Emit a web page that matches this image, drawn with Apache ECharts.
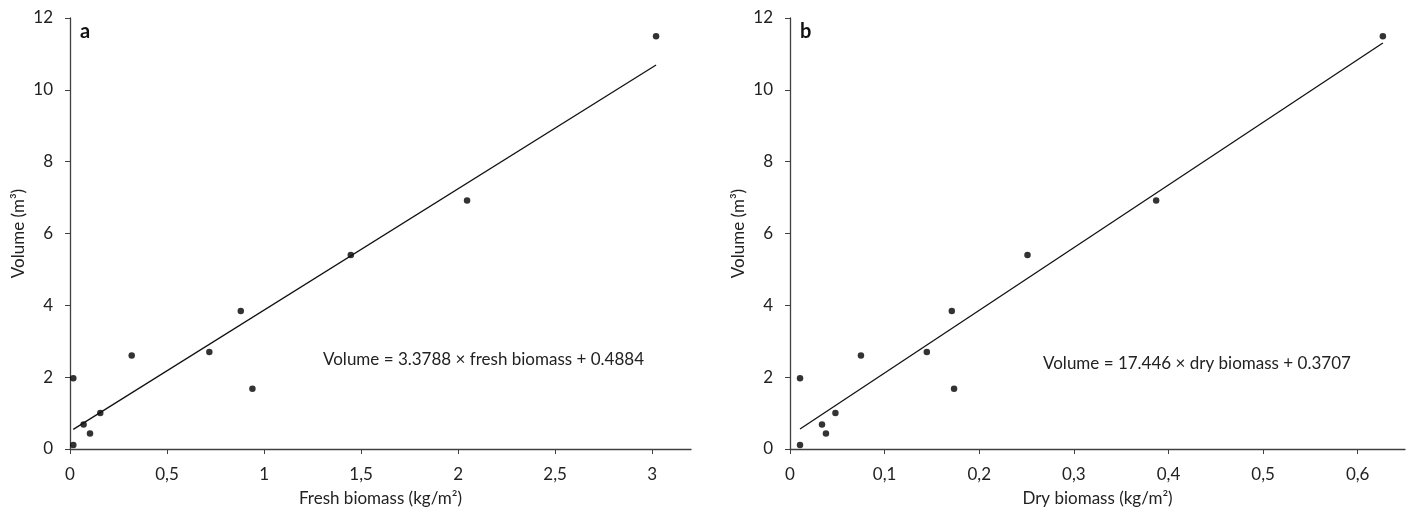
<!DOCTYPE html>
<html>
<head>
<meta charset="utf-8">
<script src="https://cdn.jsdelivr.net/npm/echarts@6/dist/echarts.min.js"></script>
<style>
  html, body { margin: 0; padding: 0; background: #fff; }
  #chart { width: 1409px; height: 510px; }
</style>
</head>
<body>
<div id="chart"></div>
<script>
// panel a: fresh biomass vs volume
const freshBiomass = [0.017, 0.017, 0.07, 0.103, 0.156, 0.318, 0.718, 0.88, 0.94, 1.447, 2.046, 3.02];
// panel b: dry biomass vs volume
const dryBiomass = [0.0106, 0.0106, 0.0338, 0.038, 0.048, 0.075, 0.1446, 0.171, 0.1734, 0.251, 0.387, 0.6266];
// volume, same plots in both panels
const volume = [0.11, 1.97, 0.68, 0.43, 1.0, 2.6, 2.7, 3.84, 1.68, 5.4, 6.92, 11.49];

// regression coefficients printed on the figure
const freshSlope = 3.3788, freshIntercept = 0.4884;
const drySlope = 17.446, dryIntercept = 0.3707;

const freshTicks = [0, 0.5, 1, 1.5, 2, 2.5, 3];
const dryTicks = [0, 0.1, 0.2, 0.3, 0.4, 0.5, 0.6];

const FONT = 'Lato';
const TXT = '#222';
const FS = 17;

function pairs(xs, ys) {
  return xs.map((x, i) => [x, ys[i]]);
}
function fitLine(xs, slope, icpt) {
  const lo = Math.min(...xs), hi = Math.max(...xs);
  return [[lo, slope * lo + icpt], [hi, slope * hi + icpt]];
}
const comma = v => String(v).replace('.', ',');

function xAxis(idx, max, ticks, name) {
  return {
    type: 'value', gridIndex: idx, min: 0, max: max,
    name: name, nameLocation: 'middle', nameGap: 41,
    nameTextStyle: { color: TXT, fontFamily: FONT, fontSize: FS },
    axisLine: { lineStyle: { color: '#404040', width: 1.3 } },
    axisTick: { show: true, length: 5, customValues: ticks, lineStyle: { color: '#404040' } },
    axisLabel: { customValues: ticks, formatter: comma, color: TXT, fontFamily: FONT, fontSize: FS, margin: 17 },
    splitLine: { show: false }
  };
}
function yAxis(idx) {
  return {
    type: 'value', gridIndex: idx, min: 0, max: 12, interval: 2,
    name: 'Volume (m³)', nameLocation: 'middle', nameGap: 43,
    nameTextStyle: { color: TXT, fontFamily: FONT, fontSize: FS },
    axisLine: { show: true, lineStyle: { color: '#404040', width: 1.3 } },
    axisTick: { show: true, length: 5, lineStyle: { color: '#404040' } },
    axisLabel: { color: TXT, fontFamily: FONT, fontSize: FS, margin: 17 },
    splitLine: { show: false }
  };
}

const chart = echarts.init(document.getElementById('chart'), null, { renderer: 'canvas' });

chart.setOption({
  backgroundColor: '#fff',
  animation: false,
  grid: [
    { left: 70, right: 718, top: 18, bottom: 61, outerBoundsMode: 'none' },
    { left: 790, right: 4, top: 18, bottom: 61, outerBoundsMode: 'none' }
  ],
  xAxis: [
    xAxis(0, 3.2, freshTicks, 'Fresh biomass (kg/m²)'),
    xAxis(1, 0.65, dryTicks, 'Dry biomass (kg/m²)')
  ],
  yAxis: [yAxis(0), yAxis(1)],
  graphic: [
    { type: 'text', left: 80, top: 22, style: { text: 'a', font: 'bold 20px ' + FONT, fill: '#111' } },
    { type: 'text', left: 800, top: 22, style: { text: 'b', font: 'bold 20px ' + FONT, fill: '#111' } },
    { type: 'text', left: 323, top: 351, style: { text: 'Volume = 3.3788 × fresh biomass + 0.4884', font: FS + 'px ' + FONT, fill: TXT } },
    { type: 'text', left: 1043, top: 355, style: { text: 'Volume = 17.446 × dry biomass + 0.3707', font: FS + 'px ' + FONT, fill: TXT } }
  ],
  series: [
    {
      type: 'line', xAxisIndex: 0, yAxisIndex: 0,
      data: fitLine(freshBiomass, freshSlope, freshIntercept),
      symbol: 'none', lineStyle: { color: '#111', width: 1.3 }
    },
    {
      type: 'scatter', xAxisIndex: 0, yAxisIndex: 0,
      data: pairs(freshBiomass, volume),
      symbolSize: 6.5, itemStyle: { color: '#000' }
    },
    {
      type: 'line', xAxisIndex: 1, yAxisIndex: 1,
      data: fitLine(dryBiomass, drySlope, dryIntercept),
      symbol: 'none', lineStyle: { color: '#111', width: 1.3 }
    },
    {
      type: 'scatter', xAxisIndex: 1, yAxisIndex: 1,
      data: pairs(dryBiomass, volume),
      symbolSize: 6.5, itemStyle: { color: '#000' }
    }
  ]
});
</script>
</body>
</html>
